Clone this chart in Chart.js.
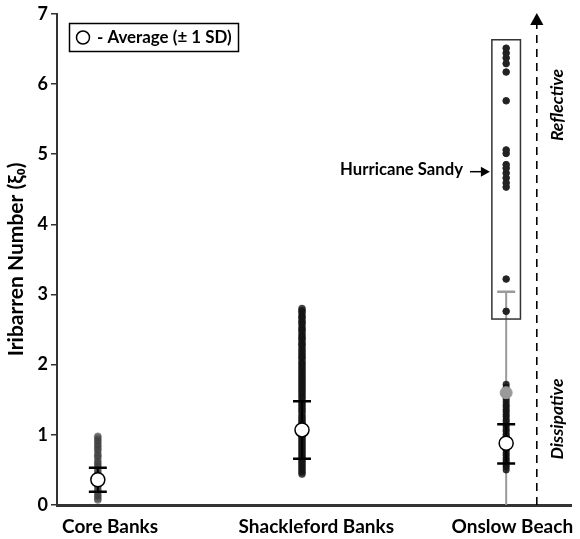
<!DOCTYPE html>
<html>
<head>
<meta charset="utf-8">
<script src="https://cdn.jsdelivr.net/npm/chart.js@4"></script>
<style>
  html, body { margin: 0; padding: 0; background: #fff; }
  #wrap { width: 580px; height: 539px; }
</style>
</head>
<body>
<div id="wrap"><canvas id="iriChart" width="580" height="539"></canvas></div>
<script>
// categories (x position 1, 2, 3)
const sites = ['Core Banks', 'Shackleford Banks', 'Onslow Beach'];
// where the category names sit along x (they are set a bit right of the columns)
const siteLabelPos = [1.06, 2.07, 3.03];
const yTicks = [0, 1, 2, 3, 4, 5, 6, 7];

const coreVals = [0.98, 0.96, 0.93, 0.91, 0.88, 0.85, 0.83, 0.80, 0.78, 0.74, 0.71, 0.69, 0.66, 0.62,
  0.60, 0.57, 0.55, 0.51, 0.48, 0.45, 0.43, 0.40, 0.37, 0.33, 0.31, 0.28, 0.26, 0.22, 0.20, 0.17,
  0.14, 0.12, 0.09, 0.07];
const shackVals = [2.80, 2.77, 2.75, 2.71, 2.68, 2.66, 2.62, 2.60, 2.57, 2.53, 2.50, 2.48, 2.44, 2.41,
  2.38, 2.36, 2.32, 2.29, 2.27, 2.23, 2.20, 2.17, 2.14, 2.11, 2.09, 2.05, 2.02, 1.99, 1.96, 1.93,
  1.90, 1.87, 1.84, 1.81, 1.78, 1.75, 1.72, 1.69, 1.66, 1.63, 1.60, 1.57, 1.54, 1.51, 1.47, 1.44,
  1.41, 1.38, 1.35, 1.32, 1.28, 1.25, 1.22, 1.19, 1.16, 1.13, 1.10, 1.04, 1.01, 0.98, 0.95, 0.92,
  0.89, 0.86, 0.83, 0.80, 0.77, 0.74, 0.71, 0.68, 0.65, 0.62, 0.59, 0.56, 0.53, 0.50, 0.47, 0.44];
const onslowVals = [1.72, 1.68, 1.64, 1.55, 1.51, 1.47, 1.43, 1.40, 1.36, 1.33, 1.29, 1.26, 1.22, 1.19,
  1.15, 1.12, 1.08, 1.05, 1.01, 0.98, 0.95, 0.91, 0.88, 0.84, 0.81, 0.78, 0.74, 0.71, 0.67, 0.64,
  0.61, 0.57, 0.54, 0.50];
const sandyVals = [2.76, 3.22, 4.53, 4.59, 4.66, 4.73, 4.80, 4.85, 5.01, 5.06, 5.76, 6.17, 6.29, 6.37, 6.44, 6.51];

// averages and +/- 1 SD (without Sandy)
const means = [0.36, 1.07, 0.88];
const sdLow = [0.19, 0.66, 0.59];
const sdHigh = [0.53, 1.48, 1.15];

// Onslow incl. Sandy (grey)
const onslowAllMean = 1.60;
const onslowAllLow = 0;
const onslowAllHigh = 3.04;

// sandy box limits
const sandyBoxLow = 2.65;
const sandyBoxHigh = 6.63;
const sandyArrowY = 4.75;

const FONT = "Lato, 'Open Sans', 'DejaVu Sans', sans-serif";
const CAP = 0.044;

function pts(x, vals) {
  return vals.map(v => ({ x: x, y: v }));
}

function segment(x1, y1, x2, y2, color, width, order) {
  return {
    type: 'line',
    data: [{ x: x1, y: y1 }, { x: x2, y: y2 }],
    borderColor: color,
    borderWidth: width,
    pointRadius: 0,
    fill: false,
    order: order
  };
}

const datasets = [
  { data: pts(1, coreVals), backgroundColor: 'rgba(60,60,60,0.55)', borderColor: 'rgba(60,60,60,0.3)', pointRadius: 3.5, order: 5 },
  { data: pts(2, shackVals), backgroundColor: 'rgba(20,20,20,0.8)', borderColor: 'rgba(20,20,20,0.4)', pointRadius: 3.5, order: 5 },
  { data: pts(3, onslowVals), backgroundColor: 'rgba(20,20,20,0.85)', borderColor: 'rgba(20,20,20,0.4)', pointRadius: 3.3, order: 5 },
  { data: pts(3, sandyVals), backgroundColor: '#222', borderColor: '#222', pointRadius: 3.3, order: 5 },
  // grey error bar for Onslow incl. Sandy
  segment(3, onslowAllLow, 3, onslowAllHigh, '#9a9a9a', 2, 6),
  segment(3 - CAP, onslowAllHigh, 3 + CAP, onslowAllHigh, '#9a9a9a', 2.5, 6),
  { data: [{ x: 3, y: onslowAllMean }], backgroundColor: '#9a9a9a', borderColor: '#9a9a9a', pointRadius: 6, order: 4 }
];

means.forEach((m, i) => {
  const x = i + 1;
  datasets.push(segment(x, sdLow[i], x, sdHigh[i], '#000', 2, 3));
  datasets.push(segment(x - CAP, sdLow[i], x + CAP, sdLow[i], '#000', 2.5, 3));
  datasets.push(segment(x - CAP, sdHigh[i], x + CAP, sdHigh[i], '#000', 2.5, 3));
  datasets.push({ data: [{ x: x, y: m }], backgroundColor: '#fff', borderColor: '#000', borderWidth: 1.5, pointRadius: 7, order: 1 });
});

function arrowHead(ctx, x, y, dir, size) {
  ctx.beginPath();
  if (dir === 'up') {
    ctx.moveTo(x, y);
    ctx.lineTo(x - size * 0.55, y + size);
    ctx.lineTo(x + size * 0.55, y + size);
  } else {
    ctx.moveTo(x, y);
    ctx.lineTo(x - size, y - size * 0.55);
    ctx.lineTo(x - size, y + size * 0.55);
  }
  ctx.closePath();
  ctx.fill();
}

const extras = {
  id: 'extras',
  afterDatasetsDraw(chart) {
    const ctx = chart.ctx;
    const xs = chart.scales.x, ys = chart.scales.y;
    ctx.save();
    ctx.fillStyle = '#000';
    ctx.strokeStyle = '#000';

    // legend box
    ctx.lineWidth = 1.5;
    ctx.strokeRect(69.5, 23.5, 169, 28);
    ctx.beginPath();
    ctx.arc(83, 37.5, 6.5, 0, Math.PI * 2);
    ctx.fillStyle = '#fff';
    ctx.fill();
    ctx.stroke();
    ctx.fillStyle = '#000';
    ctx.font = 'bold 16.9px ' + FONT;
    ctx.textBaseline = 'middle';
    ctx.textAlign = 'left';
    ctx.fillText('- Average (\u00B1 1 SD)', 97, 37.5);

    // Sandy box
    const bx1 = xs.getPixelForValue(3 - 0.07), bx2 = xs.getPixelForValue(3 + 0.07);
    const by1 = ys.getPixelForValue(sandyBoxHigh), by2 = ys.getPixelForValue(sandyBoxLow);
    ctx.strokeStyle = '#333';
    ctx.lineWidth = 1.5;
    ctx.strokeRect(bx1, by1, bx2 - bx1, by2 - by1);

    // Hurricane Sandy label + arrow
    const ay = ys.getPixelForValue(sandyArrowY);
    ctx.strokeStyle = '#000';
    ctx.lineWidth = 1.5;
    ctx.beginPath();
    ctx.moveTo(470, ay);
    ctx.lineTo(487, ay);
    ctx.stroke();
    arrowHead(ctx, bx1 - 2, ay, 'right', 9);
    ctx.font = 'bold 16.7px ' + FONT;
    ctx.textAlign = 'right';
    ctx.fillText('Hurricane Sandy', 463, ay - 2);

    // dashed dissipative -> reflective arrow
    const dx = xs.getPixelForValue(3.15);
    ctx.setLineDash([8, 6]);
    ctx.lineWidth = 1.6;
    ctx.beginPath();
    ctx.moveTo(dx, ys.getPixelForValue(0));
    ctx.lineTo(dx, 24);
    ctx.stroke();
    ctx.setLineDash([]);
    arrowHead(ctx, dx, 13, 'up', 12);

    ctx.font = 'italic bold 17.5px ' + FONT;
    ctx.textAlign = 'center';
    ctx.textBaseline = 'middle';
    ctx.save();
    ctx.translate(557, 105);
    ctx.rotate(-Math.PI / 2);
    ctx.fillText('Reflective', 0, 0);
    ctx.restore();
    ctx.save();
    ctx.translate(557, 419);
    ctx.rotate(-Math.PI / 2);
    ctx.fillText('Dissipative', 0, 0);
    ctx.restore();

    ctx.restore();
  }
};

new Chart(document.getElementById('iriChart'), {
  type: 'scatter',
  data: { datasets: datasets },
  options: {
    responsive: false,
    animation: false,
    layout: { padding: { top: 12, right: 2, left: 4, bottom: 0 } },
    plugins: { legend: { display: false }, tooltip: { enabled: false } },
    scales: {
      x: {
        type: 'linear',
        min: 0.8,
        max: 3.32,
        afterBuildTicks: s => { s.ticks = siteLabelPos.map(v => ({ value: v })); },
        afterFit: s => { s.height = 34; },
        grid: { display: false },
        border: { display: true, color: '#333', width: 3 },
        ticks: {
          color: '#000',
          padding: 2,
          maxRotation: 0,
          font: { family: FONT, size: 19, weight: 'bold' },
          callback: (v, i) => sites[i]
        }
      },
      y: {
        min: 0,
        max: 7,
        afterBuildTicks: s => { s.ticks = yTicks.map(v => ({ value: v })); },
        afterFit: s => { s.width = 53; },
        grid: { drawOnChartArea: false, drawTicks: true, tickLength: 6, color: '#333', lineWidth: 1.5 },
        border: { display: true, color: '#333', width: 2 },
        ticks: {
          color: '#000',
          padding: 3,
          font: { family: FONT, size: 18, weight: 'bold' }
        },
        title: {
          display: true,
          text: 'Iribarren Number (\u03BE\u2080)',
          color: '#000',
          padding: { top: 0, bottom: 0 },
          font: { family: FONT, size: 21, weight: 'bold' }
        }
      }
    }
  },
  plugins: [extras]
});
</script>
</body>
</html>
